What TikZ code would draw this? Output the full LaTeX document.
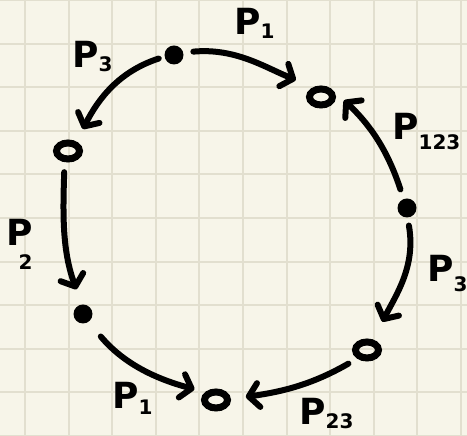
\documentclass[tikz,border=0pt]{standalone}
\usepackage{fontspec}
\setmainfont{DejaVu Sans}
\usetikzlibrary{arrows.meta,shapes.geometric}
\definecolor{paper}{RGB}{247,245,233}
\definecolor{gridc}{RGB}{226,223,207}
\newcommand{\Psub}[2][-8pt]{P\raisebox{#1}{\fontsize{20}{20}\selectfont #2}}
\begin{document}
\begin{tikzpicture}[x=1pt,y=1pt,
  dot/.style={circle,fill=black,inner sep=0pt,minimum size=19pt},
  hole/.style={ellipse,draw=black,line width=7pt,inner sep=0pt,minimum width=23pt,minimum height=16pt},
  arc/.style={line width=6pt,line cap=round,line join=round,-{Straight Barb[length=10pt,width=24pt,round]}},
  lab/.style={font=\bfseries\fontsize{36}{36}\selectfont,inner sep=0pt,anchor=base west},
  gridline/.style={draw=gridc,line width=2pt}]
\fill[paper] (0,0) rectangle (467,436);
\useasboundingbox (0,0) rectangle (467,436);
\foreach \i in {0,...,10} {
  \draw[gridline] (25+43.6*\i,0) -- (25+43.6*\i,436);
  \draw[gridline] (0,43.6*\i) -- (467,43.6*\i);
}
% nodes
\node[dot]  (t)  at (174,381) {};
\node[hole] (rt) at (321,339) {};
\node[hole] (l)  at (68,285) {};
\node[dot]  (r)  at (407,228) {};
\node[dot]  (ld) at (83,122) {};
\node[hole] (rl) at (367,86) {};
\node[hole] (b)  at (216,36) {};
% connectors
\draw[arc,shorten <=10pt,shorten >=19pt] (t.15) to[out=5,in=158] (rt.127);
\draw[arc,shorten <=6pt,shorten >=14pt] (t.190) to[out=198,in=63] (l.48);
\draw[arc,shorten <=10pt,shorten >=15pt] (r.111) to[out=108,in=-43] (rt.30);
\draw[arc,shorten <=10pt,shorten >=16pt] (l.-107) to[out=-92,in=110] (ld.97);
\draw[arc,shorten <=8pt,shorten >=20pt] (r.-87) to[out=-80,in=63] (rl.59);
\draw[arc,shorten <=19pt,shorten >=11pt] (ld.-55) to[out=-50,in=165] (b.144);
\draw[arc,shorten <=10pt,shorten >=15pt] (rl.221) to[out=210,in=8] (b.4);
% labels
\node[lab] (p1t) at (234,401) {\Psub[-4pt]{1}};
\node[lab] (p3t) at (72,368) {\Psub[-4pt]{3}};
\node[lab] (p123) at (392,296) {\Psub[-10pt]{123}};
\node[lab] (p2) at (6,190) {P\llap{\raisebox{-24pt}{\fontsize{20}{20}\selectfont 2}}};
\node[lab] (p3r) at (427,154) {\Psub[-10pt]{3}};
\node[lab] (p1b) at (112,27) {\Psub[-6pt]{1}};
\node[lab] (p23) at (299,11) {\Psub[-4pt]{23}};
\end{tikzpicture}
\end{document}
